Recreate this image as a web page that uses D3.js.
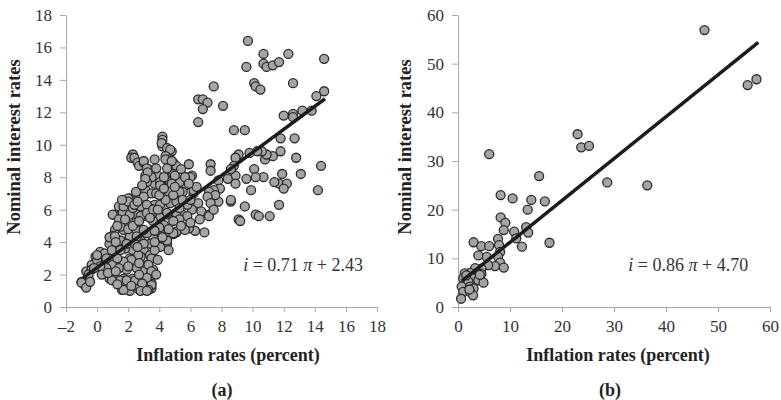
<!DOCTYPE html>
<html>
<head>
<meta charset="utf-8">
<script src="https://d3js.org/d3.v7.min.js"></script>
<style>
  body { margin: 0; background: #fff; }
  svg text { font-family: "Liberation Serif", "DejaVu Serif", serif; fill: #222; }
  .axis path, .axis line { stroke: #a8a8a8; }
  .axis text { font-size: 17px; fill: #333; }
</style>
</head>
<body>
<div id="container"></div>
<script>
// panel (a): [inflation, nominal interest rate]
var pointsA = [
  [9.7,16.4],[10.7,15.6],[12.3,15.6],[14.6,15.3],[10.7,15.0],[10.9,14.8],[11.3,14.9],[11.7,15.1],[9.6,14.8],
  [12.6,13.8],[10.1,13.8],[10.2,13.6],[10.5,13.4],[7.5,13.6],[6.5,12.8],[6.8,12.8],[7.1,12.6],[6.8,12.2],
  [8.1,12.4],[6.5,11.4],[14.6,13.3],[14.1,13.0],[8.8,10.9],[9.5,10.9],[12.0,11.8],[12.6,11.9],[12.6,11.7],
  [13.2,12.1],[13.8,12.1],[11.8,10.4],[12.7,10.4],[14.4,8.7],[14.2,7.2],[13.1,8.2],[12.8,9.2],[11.9,8.2],
  [11.8,9.6],[11.3,9.3],[10.8,9.1],[10.9,9.4],[10.6,9.6],[10.3,9.6],[9.8,9.5],[9.1,9.4],[8.9,9.2],[10.1,8.5],
  [10.7,8.0],[10.2,8.0],[9.6,7.9],[9.9,7.2],[8.9,8.1],[8.9,7.6],[8.4,7.9],[8.8,8.7],[8.6,8.5],[11.7,7.6],
  [11.4,7.7],[12.2,7.6],[12.0,7.3],[7.3,8.8],[7.3,8.4],[5.9,8.8],[7.8,7.8],[7.9,7.3],[7.5,7.2],[7.2,7.1],
  [8.6,6.5],[9.5,6.2],[9.1,5.4],[9.2,5.3],[10.2,5.7],[10.4,5.6],[11.1,5.6],[11.7,6.3],[7.8,6.5],
  [7.6,6.9],[7.1,6.8],[8.6,6.6],[6.5,6.4],[7.3,6.4],[6.1,6.0],[6.7,5.9],[7.2,5.7],[6.2,7.0],[6.1,8.1],
  [5.7,8.0],[5.7,7.5],[5.3,7.1],[5.8,6.3],[5.5,5.7],[5.1,5.8],[4.5,5.7],
  [6.3,4.7],[6.9,4.6],[6.6,5.4],[7.2,5.6],[7.5,6.0],[5.8,5.6],[5.3,5.4],[5.1,4.6],[5.7,4.9],[5.9,4.85],
  [4.9,4.5],[4.7,4.5],[4.3,5.0],[3.8,5.4],
  [2.3,9.4],[2.2,9.2],[2.4,9.2],[2.6,8.9],[2.7,8.7],[3.0,8.9],[3.7,9.1],[4.2,9.9],[4.2,10.5],[4.2,10.3],
  [4.15,10.1],[4.5,9.8],[4.8,9.6],[4.7,9.7],[4.4,9.3],[4.7,9.1],[4.9,8.9],[5.1,8.7],[5.4,8.5],[6.0,8.0],
  [3.1,8.1],[3.3,8.5],[3.6,8.2],[3.9,8.1],[4.3,7.9],[4.6,8.0],[4.9,8.2],[3.4,7.8],[3.7,7.6],[4.05,7.7],
  [4.7,7.7],[5.3,7.7],[5.65,8.0],[5.5,7.1],[6.2,7.2],[3.1,7.2],[3.5,7.0],[2.1,6.7],[3.0,6.8],[3.0,9.0],
  [4.4,9.1],[4.8,9.0],[3.2,8.55],[3.8,8.55],[4.5,8.55],[3.5,8.0],[4.3,8.0],[5.0,8.1],[3.2,7.7],[4.05,7.5],
  [4.8,7.6],[3.8,7.0],[4.6,7.1],[5.3,7.1],[3.2,6.2],[3.7,6.3],[4.3,6.2],[3.0,5.6],[3.25,8.3],[3.1,7.9],
  [2.0,6.7],[1.75,6.4],[1.4,6.2],[1.1,5.7],[1.65,5.8],[2.6,5.7],[3.0,5.9],[3.4,6.1],
  [1.0,5.7],[1.7,6.2],[2.0,6.5],[1.4,5.4],[1.15,4.75],[1.0,4.4],[0.8,3.9],[0.2,3.4],[-0.1,3.1],[0.1,2.9],
  [-0.35,2.6],[-0.7,2.2],[-1.0,1.55],[-0.8,1.35],[-0.5,1.65],[0.2,2.5],[0.6,2.9],[0.5,3.3],[1.15,3.5],
  [0.8,4.3],[1.5,4.1],[1.7,4.75],[1.9,5.15],[2.1,5.7],[2.3,6.1],[2.8,6.2],[3.2,6.3],[2.8,5.6],[3.2,5.8],
  [3.6,6.0],[4.05,6.3],[4.7,6.4],[5.1,6.5],[5.3,6.1],[4.5,5.8],[4.05,5.5],[3.6,5.3],[4.3,5.05],[4.9,5.3],
  [5.1,4.65],[4.7,4.55],[5.65,4.75],[4.05,4.55],[3.6,4.3],[3.2,4.55],[2.55,4.75],[2.1,4.3],[2.8,4.1],
  [3.4,3.9],[4.05,3.8],[4.5,3.9],[3.0,3.5],[2.3,3.5],[1.8,3.6],[3.4,3.2],[2.8,3.1],[2.1,3.0],[1.6,2.8],
  [1.0,2.6],[0.6,2.4],[3.2,2.6],[3.6,2.3],[3.0,2.2],[2.55,2.4],[1.9,2.3],[3.4,1.9],[2.9,1.65],[2.3,1.75],
  [1.7,1.75],[1.15,1.75],[0.8,1.75],[3.5,1.45],[3.2,1.25],[1.6,1.05],[2.1,1.0],[2.65,1.1],[3.1,1.05],
  [3.5,1.15],[1.8,1.35],[2.45,1.35],[4.05,3.7],[4.6,3.5],[4.5,4.1],[4.9,4.55],[3.5,3.0],[3.3,2.6],[3.5,2.2],
  [3.2,1.8],[3.5,1.35],[3.3,1.05],[3.0,4.75],[3.0,3.9],[2.65,3.2],[2.2,2.9],[1.7,2.8],[0.95,1.65],[1.5,1.65],
  [1.9,1.65],[2.45,1.65],[2.9,1.45],[1.7,1.05],[2.8,1.0],[3.2,1.0],[1.5,4.95],[1.15,4.35],[2.1,4.35],
  [2.55,4.35],[0.95,3.5],[0.6,3.0],[0.0,2.9],[0.2,2.5],[-0.35,2.3],[-0.55,2.0],[-1.0,1.5],[-0.7,1.2],
  [-0.45,1.55],[0.0,3.2],[2.5,5.2],[2.0,4.8],[2.4,3.9],[1.3,3.0],[1.9,3.9],[2.7,2.7],[4.0,4.9],[3.7,4.7],
  [1.3,5.0],[1.8,5.4],[2.3,5.0],[2.7,5.3],[3.4,5.5],[3.9,6.0],[4.4,6.6],[4.9,6.9],[5.5,6.6],[6.0,6.6],
  [6.4,7.4],[5.9,7.6],[1.5,3.5],[1.2,4.0],[2.6,3.7],[3.7,3.5],[3.9,2.9],[3.8,2.0],[2.7,2.0],[2.0,2.5],
  [1.4,2.4],[0.3,2.0],[0.7,2.1],[-0.2,2.4],[1.2,2.2],[2.2,1.3],[1.3,1.4],[3.7,4.0],[4.2,4.3],[5.4,5.0],
  [6.0,5.2],[4.6,4.8],[4.0,6.9],[4.3,7.3],[5.0,7.4],[2.5,7.1],[2.4,6.3],[1.6,6.6],[2.9,7.5],[2.6,6.5]
];

// panel (b)
var pointsB = [
  [47.4,56.9],[55.7,45.6],[57.4,46.8],[23.0,35.5],[23.7,32.8],[25.2,33.1],[6.0,31.4],[15.6,26.9],[28.7,25.6],
  [36.4,25.0],[8.2,23.0],[10.5,22.3],[14.1,22.0],[16.7,21.7],[13.4,20.0],[8.2,18.4],[9.1,17.3],[8.8,15.8],
  [10.8,15.5],[13.1,16.4],[13.5,15.3],[11.2,14.1],[12.3,12.4],[17.6,13.2],[7.7,14.0],[7.9,12.7],[3.0,13.3],
  [4.5,12.5],[6.0,12.5],[8.1,11.3],[7.7,10.3],[5.5,10.3],[3.9,10.6],[8.1,9.1],[8.8,8.1],[7.1,8.4],[5.8,8.6],
  [4.5,7.9],[3.3,8.0],[2.3,7.0],[1.3,6.9],[3.0,5.9],[3.9,5.5],[4.9,5.0],[4.5,6.8],[1.0,5.9],[2.0,5.2],
  [0.7,4.2],[2.3,4.2],[3.0,3.8],[1.0,3.1],[2.3,3.1],[2.9,2.4],[0.6,1.7],[1.6,6.5],[2.2,3.6],[4.2,6.6]
];

// fitted lines: slope, intercept, x extent
var fitA = { slope: 0.71, intercept: 2.43, from: -0.9, to: 14.66 };
var fitB = { slope: 0.86, intercept: 4.70, from: 0.7, to: 57.75 };

var xTicksA = [-2, 0, 2, 4, 6, 8, 10, 12, 14, 16, 18];
var yTicksA = [0, 2, 4, 6, 8, 10, 12, 14, 16, 18];
var xTicksB = [0, 10, 20, 30, 40, 50, 60];
var yTicksB = [0, 10, 20, 30, 40, 50, 60];

var serif = "'Liberation Serif', 'DejaVu Serif', serif";
var width = 781, height = 400;
var svg = d3.select("div#container").append("svg")
  .attr("width", width)
  .attr("height", height)
  .attr("font-family", serif);

function drawPanel(opt) {
  var x = d3.scaleLinear().domain(opt.xDomain).range(opt.xRange);
  var y = d3.scaleLinear().domain(opt.yDomain).range([307, 15]);

  svg.append("g")
    .attr("class", "axis")
    .attr("transform", "translate(0,307)")
    .call(d3.axisBottom(x).tickValues(opt.xTicks).tickSize(5).tickSizeOuter(0).tickPadding(6)
      .tickFormat(function(d) { return d < 0 ? "\u2013" + Math.abs(d) : d; }))
    .attr("font-family", serif)
    .attr("font-size", 17)
    .call(function(g) { g.selectAll("text").attr("dy", "0.85em"); });

  svg.append("g")
    .attr("class", "axis")
    .attr("transform", "translate(" + opt.xRange[0] + ",0)")
    .call(d3.axisLeft(y).tickValues(opt.yTicks).tickSize(6).tickSizeOuter(0).tickPadding(8))
    .attr("font-family", serif)
    .attr("font-size", 17);

  svg.append("g")
    .selectAll("circle")
    .data(opt.points)
    .enter()
    .append("circle")
    .attr("cx", function(d) { return x(d[0]); })
    .attr("cy", function(d) { return y(d[1]); })
    .attr("r", 4.5)
    .attr("fill", "#a4a4a4")
    .attr("stroke", "#2b2b2b")
    .attr("stroke-width", 1.3);

  var f = opt.fit;
  svg.append("line")
    .attr("x1", x(f.from)).attr("y1", y(f.slope * f.from + f.intercept))
    .attr("x2", x(f.to)).attr("y2", y(f.slope * f.to + f.intercept))
    .attr("stroke", "#1c1c1c")
    .attr("stroke-width", 3.5);

  // equation
  var eq = svg.append("text")
    .attr("x", x(opt.eqPos[0]))
    .attr("y", y(opt.eqPos[1]))
    .attr("text-anchor", "end")
    .style("font-size", "18px")
    .style("fill", "#333");
  eq.append("tspan").style("font-style", "italic").text("i");
  eq.append("tspan").text(" = " + f.slope.toFixed(2) + " ");
  eq.append("tspan").style("font-style", "italic").text("\u03c0");
  eq.append("tspan").text(" + " + f.intercept.toFixed(2));

  svg.append("text")
    .attr("x", opt.xTitleX)
    .attr("y", 361)
    .attr("text-anchor", "middle")
    .style("font-size", "18px")
    .style("font-weight", "bold")
    .text("Inflation rates (percent)");

  svg.append("text")
    .attr("transform", "translate(" + opt.yTitleX + ",147) rotate(-90)")
    .attr("text-anchor", "middle")
    .style("font-size", "18.5px")
    .style("font-weight", "bold")
    .text("Nominal interest rates");

  svg.append("text")
    .attr("x", opt.tagX)
    .attr("y", 396)
    .attr("text-anchor", "middle")
    .style("font-size", "18px")
    .style("font-weight", "bold")
    .text(opt.tag);
}

drawPanel({
  points: pointsA, fit: fitA,
  xDomain: [-2, 18], xRange: [66, 377], yDomain: [0, 18],
  xTicks: xTicksA, yTicks: yTicksA,
  eqPos: [17.1, 2.2], xTitleX: 228, yTitleX: 20, tagX: 222, tag: "(a)"
});

drawPanel({
  points: pointsB, fit: fitB,
  xDomain: [0, 60], xRange: [458, 770], yDomain: [0, 60],
  xTicks: xTicksB, yTicks: yTicksB,
  eqPos: [55.8, 7.4], xTitleX: 618, yTitleX: 411, tagX: 610, tag: "(b)"
});
</script>
</body>
</html>
